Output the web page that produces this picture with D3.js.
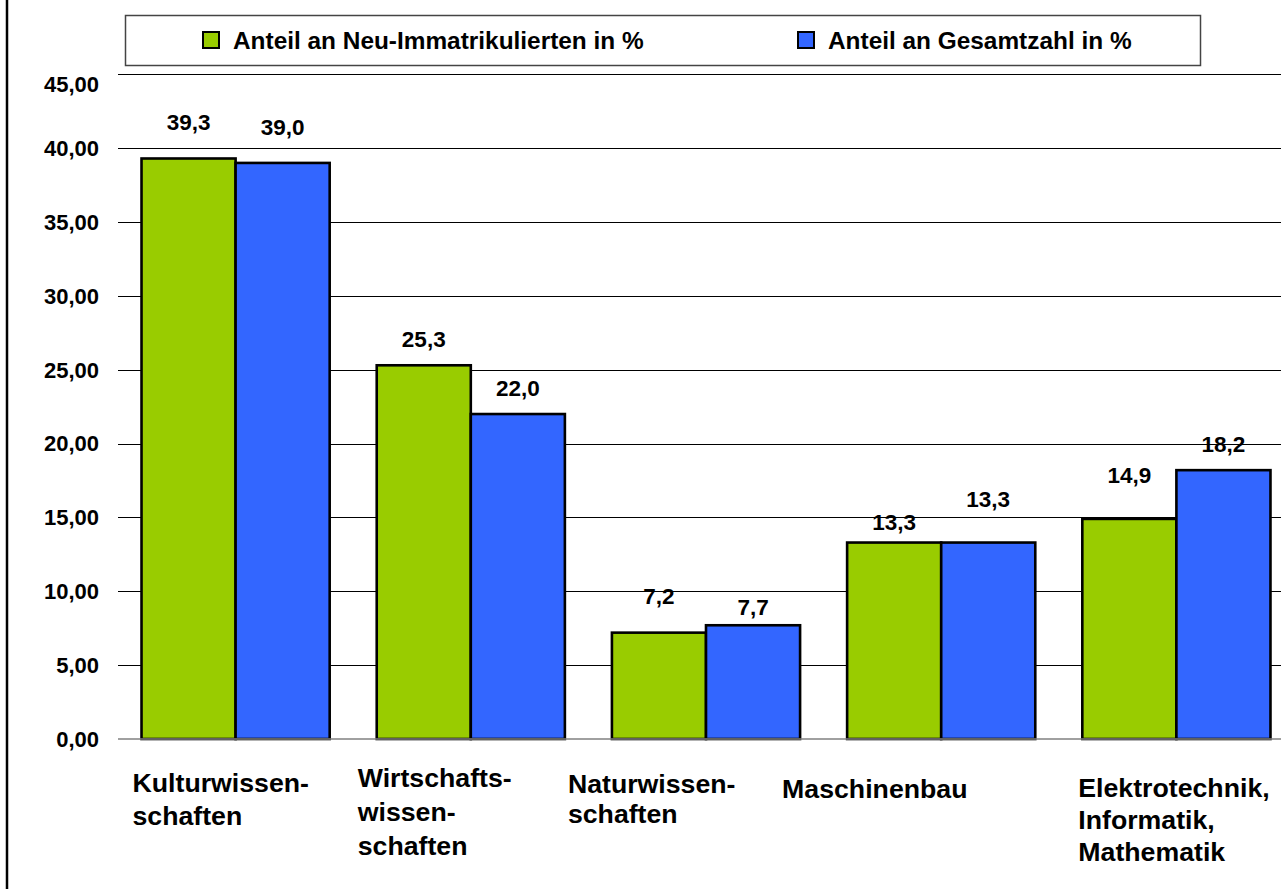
<!DOCTYPE html>
<html>
<head>
<meta charset="utf-8">
<script src="https://cdn.jsdelivr.net/npm/d3@7"></script>
<style>
  body { margin: 0; background: #fff; }
  svg { display: block; font-family: "Liberation Sans", Arial, sans-serif; font-weight: bold; }
</style>
</head>
<body>
<svg width="1281" height="889"></svg>
<script>
// Werte aus dem Diagramm
var categories = [
    ["Kulturwissen-", "schaften"],
    ["Wirtschafts-", "wissen-", "schaften"],
    ["Naturwissen-", "schaften"],
    ["Maschinenbau"],
    ["Elektrotechnik,", "Informatik,", "Mathematik"]
];
var seriesNames = ["Anteil an Neu-Immatrikulierten in %", "Anteil an Gesamtzahl in %"];
var neuImmatrikulierte = [39.3, 25.3, 7.2, 13.3, 14.9];
var gesamtzahl = [39.0, 22.0, 7.7, 13.3, 18.2];
var yTicks = [0, 5, 10, 15, 20, 25, 30, 35, 40, 45];

var colors = ["#99CC00", "#3366FF"];

// Lage der Beschriftungen (wie im Original verschoben)
var labelLift = [[28, 18, 29, 13, 36], [28, 18, 10, 36, 18]];
var catLabelPos = [[-9, 792, 33], [-19, 787, 34], [-44, 793, 30], [-65, 798, 33], [-4, 797, 32]];

var svg = d3.select("svg");
var fmt = function(v, d) { return v.toFixed(d).replace(".", ","); };

var plotLeft = 118, plotRight = 1294, plotTop = 74.3, plotBottom = 739;

var x0 = d3.scaleBand()
    .domain(d3.range(categories.length))
    .range([plotLeft, plotRight])
    .paddingInner(0.2)
    .paddingOuter(0.1);

var x1 = d3.scaleBand()
    .domain([0, 1])
    .range([0, x0.bandwidth()]);

var y = d3.scaleLinear().domain([0, 45]).range([plotBottom, plotTop]);

// linker Rahmen
svg.append("line")
    .attr("x1", 7).attr("x2", 7)
    .attr("y1", 0).attr("y2", 889)
    .attr("stroke", "#000").attr("stroke-width", 2.5);

// Gitterlinien
svg.append("g").selectAll("line")
    .data(yTicks.filter(function(t) { return t > 0; }))
    .enter().append("line")
    .attr("x1", plotLeft).attr("x2", 1281)
    .attr("y1", function(d) { return Math.round(y(d)) + 0.5; })
    .attr("y2", function(d) { return Math.round(y(d)) + 0.5; })
    .attr("stroke", "#000").attr("stroke-width", 1);

// Achsenbeschriftung
svg.append("g").selectAll("text")
    .data(yTicks)
    .enter().append("text")
    .attr("x", 99)
    .attr("y", function(d) { return y(d) + (d === 45 ? 10 : 0); })
    .attr("dy", "0.36em")
    .attr("text-anchor", "end")
    .style("font-size", "22px")
    .text(function(d) { return fmt(d, 2); });

// Balken
var series = [neuImmatrikulierte, gesamtzahl];
series.forEach(function(vals, s) {
    var g = svg.append("g");
    g.selectAll("rect")
        .data(vals)
        .enter().append("rect")
        .attr("x", function(d, i) { return x0(i) + x1(s); })
        .attr("y", function(d) { return y(d); })
        .attr("width", x1.bandwidth())
        .attr("height", function(d) { return y(0) - y(d); })
        .attr("fill", colors[s])
        .attr("stroke", "#000")
        .attr("stroke-width", 2.6);

    g.selectAll("text")
        .data(vals)
        .enter().append("text")
        .attr("x", function(d, i) { return x0(i) + x1(s) + x1.bandwidth() / 2; })
        .attr("y", function(d, i) { return y(d) - labelLift[s][i]; })
        .attr("text-anchor", "middle")
        .style("font-size", "22.5px")
        .text(function(d) { return fmt(d, 1); });
});

// Grundlinie
svg.append("line")
    .attr("x1", plotLeft).attr("x2", 1281)
    .attr("y1", y(0)).attr("y2", y(0))
    .attr("stroke", "#808080").attr("stroke-width", 1.5);

// Kategorien
var cat = svg.append("g").selectAll("text")
    .data(categories)
    .enter().append("text")
    .attr("x", function(d, i) { return x0(i) + catLabelPos[i][0]; })
    .attr("y", function(d, i) { return catLabelPos[i][1]; })
    .style("font-size", "26.7px");

cat.selectAll("tspan")
    .data(function(d, i) { return d.map(function(t) { return { t: t, i: i }; }); })
    .enter().append("tspan")
    .attr("x", function(d) { return x0(d.i) + catLabelPos[d.i][0]; })
    .attr("dy", function(d, j) { return j === 0 ? 0 : catLabelPos[d.i][2]; })
    .text(function(d) { return d.t; });

// Legende
svg.append("rect")
    .attr("x", 125.5).attr("y", 15.5)
    .attr("width", 1075).attr("height", 50)
    .attr("fill", "#fff")
    .attr("stroke", "#444").attr("stroke-width", 1.5);

var legendX = [203, 798];
var leg = svg.append("g").selectAll("g")
    .data(seriesNames)
    .enter().append("g")
    .attr("transform", function(d, i) { return "translate(" + legendX[i] + ",32)"; });

leg.append("rect")
    .attr("width", 16).attr("height", 16)
    .attr("fill", function(d, i) { return colors[i]; })
    .attr("stroke", "#000").attr("stroke-width", 2);

leg.append("text")
    .attr("x", 30).attr("y", 8)
    .attr("dy", "0.36em")
    .style("font-size", "24.4px")
    .text(function(d) { return d; });
</script>
</body>
</html>
